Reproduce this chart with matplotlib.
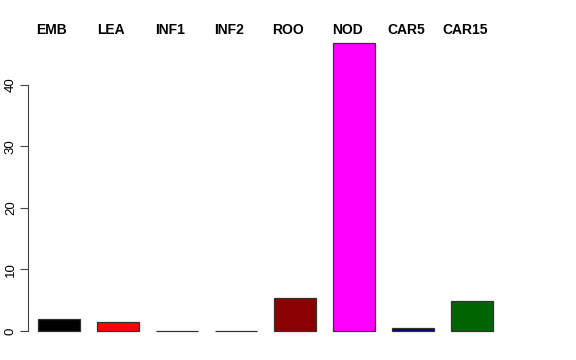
import matplotlib.pyplot as plt
import matplotlib.transforms as mtransforms
import numpy as np

# tissue names and expression values
tissues = ['EMB', 'LEA', 'INF1', 'INF2', 'ROO', 'NOD', 'CAR5', 'CAR15']
values = [1.95, 1.4, 0.05, 0.05, 5.35, 46.8, 0.5, 4.9]
colors = ['black', 'red', 'green', 'blue', '#8B0000', 'magenta', '#000080', '#006400']

plt.rcParams['font.family'] = ['Liberation Sans', 'DejaVu Sans']

fig = plt.figure(figsize=(5.76, 3.6), dpi=100)
ax = fig.add_axes([0.0486, 0.0486, 0.875 - 0.0486, 0.9125 - 0.0486])

x = np.arange(len(tissues))
ax.bar(x, values, width=0.71, color=colors, edgecolor='#333333', linewidth=0.9)

# R-style axis limits (4% padding)
ymax = max(values)
ax.set_ylim(-0.04 * ymax, ymax * 1.04)
ax.set_xlim(-0.525, 7.54)

for side in ['top', 'right', 'bottom']:
    ax.spines[side].set_visible(False)
ax.spines['left'].set_bounds(0, 40)
ax.spines['left'].set_color('#444444')
ax.set_xticks([])
ax.set_yticks([0, 10, 20, 30, 40])
ax.tick_params(axis='y', length=6, color='#444444', labelsize=9.5, pad=2)
for lab in ax.get_yticklabels():
    lab.set_rotation(90)
    lab.set_va('center')

# tissue names across the top, slightly left of each bar
trans = mtransforms.blended_transform_factory(ax.transData, fig.transFigure)
for i, name in enumerate(tissues):
    ax.text(i - 0.12, 1 - 29.5 / 360, name, transform=trans, ha='center', va='center',
            fontsize=10, fontweight='bold', clip_on=False)

fig.savefig('out.png', dpi=100)
